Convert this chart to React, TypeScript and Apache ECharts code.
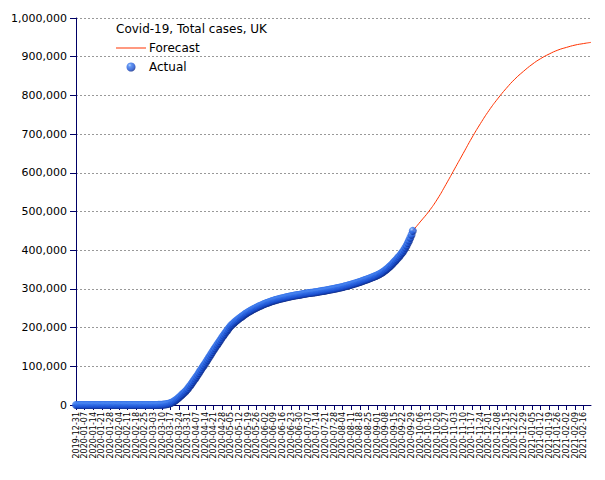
import React, { useEffect, useRef } from "react";
import * as echarts from "echarts";

const START_DATE = "2019-12-31";
const DAY_COUNT = 420; // 2019-12-31 .. 2021-02-22

const Y_TICKS = [0, 100000, 200000, 300000, 400000, 500000, 600000, 700000, 800000, 900000, 1000000];

// Daily cumulative cases, 2019-12-31 .. 2020-09-30
const actualCases = [
  // 2019-12-31 .. 2020-01-30
  0, 0, 0, 0, 0, 0, 0, 0, 0, 0, 0, 0, 0, 0, 0, 0, 0, 0, 0, 0, 0, 0, 0, 0, 0, 0, 0, 0, 0, 0, 0,
  // 2020-01-31 .. 2020-02-29
  2, 2, 2, 2, 2, 2, 3, 3, 3, 4, 8, 8, 9, 9, 9, 9, 9, 9, 9, 9, 9, 9, 9, 9, 9, 13, 13, 15, 20, 23,
  // 2020-03-01 .. 2020-03-17
  40, 50, 70, 100, 140, 200, 280, 380, 520, 700, 950, 1300, 1750, 2300, 2950, 3800, 4800,
  // weekly blocks ending 03-24 ... 09-29
  6300, 8000, 10000, 12200, 14600, 17200, 20000,
  22900, 26000, 29000, 32000, 35200, 38500, 42000,
  46300, 50700, 55100, 59500, 64000, 68500, 73000,
  77900, 82800, 87700, 92500, 97400, 102200, 107000,
  112000, 117000, 122000, 127000, 132000, 137000, 142000,
  146800, 151500, 156200, 160900, 165600, 170300, 175000,
  179500, 183900, 188300, 192600, 196800, 200900, 205000,
  208000, 210900, 213700, 216400, 219000, 221500, 224000,
  226400, 228800, 231200, 233500, 235700, 237900, 240000,
  241800, 243600, 245400, 247100, 248800, 250400, 252000,
  253500, 255000, 256500, 257900, 259300, 260700, 262000,
  263200, 264400, 265600, 266700, 267800, 268900, 270000,
  270900, 271800, 272700, 273500, 274300, 275100, 276000,
  276700, 277400, 278100, 278800, 279500, 280200, 281000,
  281600, 282200, 282800, 283400, 283900, 284400, 285000,
  285600, 286200, 286800, 287300, 287800, 288400, 289000,
  289400, 289800, 290200, 290600, 291000, 291500, 292000,
  292600, 293200, 293800, 294300, 294800, 295400, 296000,
  296600, 297200, 297800, 298400, 298900, 299400, 300000,
  300700, 301400, 302100, 302800, 303500, 304200, 305000,
  305800, 306700, 307600, 308400, 309200, 310100, 311000,
  312000, 313000, 314000, 315000, 316000, 317000, 318000,
  319100, 320300, 321500, 322600, 323700, 324800, 326000,
  327200, 328400, 329700, 331000, 332300, 333600, 335000,
  336600, 338300, 340100, 342000, 344200, 346500, 349000,
  351600, 354300, 357100, 360000, 363300, 366600, 370000,
  373300, 376700, 380300, 384000, 387900, 391900, 396000,
  401000, 406400, 412300, 418500, 425000, 432200, 440000,
  // 2020-09-30
  450000,
];

const forecastDates = [
  "2020-09-30", "2020-10-06", "2020-10-13", "2020-10-20", "2020-10-27",
  "2020-11-03", "2020-11-10", "2020-11-17", "2020-11-24", "2020-12-01",
  "2020-12-08", "2020-12-15", "2020-12-22", "2020-12-29", "2021-01-05",
  "2021-01-12", "2021-01-19", "2021-01-26", "2021-02-02", "2021-02-09",
  "2021-02-16", "2021-02-22",
];
const forecastCases = [
  450000, 473000, 500000, 532000, 570000,
  610000, 650000, 690000, 727000, 761000,
  791000, 818000, 842000, 862000, 880000,
  895000, 907000, 917000, 924000, 930000,
  934000, 937000,
];

function buildDates(start: string, count: number): string[] {
  const out: string[] = [];
  const [y, m, d] = start.split("-").map(Number);
  const t0 = Date.UTC(y, m - 1, d);
  for (let i = 0; i < count; i++) {
    const dt = new Date(t0 + i * 86400000);
    const s =
      dt.getUTCFullYear() +
      "-" +
      String(dt.getUTCMonth() + 1).padStart(2, "0") +
      "-" +
      String(dt.getUTCDate()).padStart(2, "0");
    out.push(s);
  }
  return out;
}

const FONT = "DejaVu Sans";
const AXIS_COLOR = "#000066";
const RED = "#ff3300";

export default function App() {
  const ref = useRef<HTMLDivElement>(null);

  useEffect(() => {
    if (!ref.current) return;
    const chart = echarts.init(ref.current, null, { renderer: "svg" });
    const dates = buildDates(START_DATE, DAY_COUNT);
    const sphere = new echarts.graphic.RadialGradient(0.36, 0.3, 0.75, [
      { offset: 0, color: "#a4ccff" },
      { offset: 0.25, color: "#3c7cf0" },
      { offset: 0.7, color: "#1a4fd0" },
      { offset: 1, color: "#06207a" },
    ]);

    chart.setOption({
      animation: false,
      backgroundColor: "#ffffff",
      title: {
        text: "Covid-19, Total cases, UK",
        left: 116,
        top: 23,
        padding: 0,
        textStyle: { fontFamily: FONT, fontSize: 12, fontWeight: "normal", color: "#000" },
      },
      legend: {
        orient: "vertical",
        left: 116,
        top: 41,
        padding: 0,
        itemWidth: 30,
        itemHeight: 9,
        itemGap: 5,
        textStyle: {
          fontFamily: FONT,
          fontSize: 12,
          color: "#000",
          lineHeight: 14,
          padding: [0, 0, 0, -2],
        },
        data: [
          { name: "Forecast", icon: "path://M0,0H30V1H0Z" },
          { name: "Actual", icon: "circle" },
        ],
      },
      grid: { left: 76, right: 14, top: 18, bottom: 75, containLabel: false },
      xAxis: {
        type: "category",
        data: dates,
        boundaryGap: false,
        axisLine: { lineStyle: { color: AXIS_COLOR, width: 1 } },
        axisTick: { interval: 6, length: 5, lineStyle: { color: AXIS_COLOR } },
        axisLabel: {
          interval: 6,
          rotate: 90,
          margin: 7,
          fontFamily: FONT,
          fontSize: 8,
          color: "#000",
        },
        splitLine: { show: false },
      },
      yAxis: {
        type: "value",
        min: Y_TICKS[0],
        max: Y_TICKS[Y_TICKS.length - 1],
        interval: Y_TICKS[1] - Y_TICKS[0],
        axisLine: { show: true, lineStyle: { color: AXIS_COLOR, width: 1 } },
        axisTick: { show: true, length: 6, lineStyle: { color: AXIS_COLOR } },
        axisLabel: {
          margin: 9,
          fontFamily: FONT,
          fontSize: 11,
          color: "#000",
          formatter: (v: number) => v.toLocaleString("en-US"),
        },
        splitLine: { show: true, lineStyle: { color: "#999999", type: [2, 2], width: 1 } },
      },
      series: [
        {
          name: "Forecast",
          type: "line",
          data: forecastDates.map((d, i) => [d, forecastCases[i]]),
          smooth: 0.5,
          symbol: "none",
          showSymbol: false,
          lineStyle: { color: RED, width: 1 },
          itemStyle: { color: RED },
          z: 2,
        },
        {
          name: "Actual",
          type: "scatter",
          data: actualCases,
          symbol: "circle",
          symbolSize: 8,
          itemStyle: { color: sphere },
          z: 3,
        },
      ],
    });
    return () => chart.dispose();
  }, []);

  return (
    <div
      ref={ref}
      style={{ position: "fixed", left: 0, top: 0, width: 605, height: 480, background: "#fff" }}
    />
  );
}
